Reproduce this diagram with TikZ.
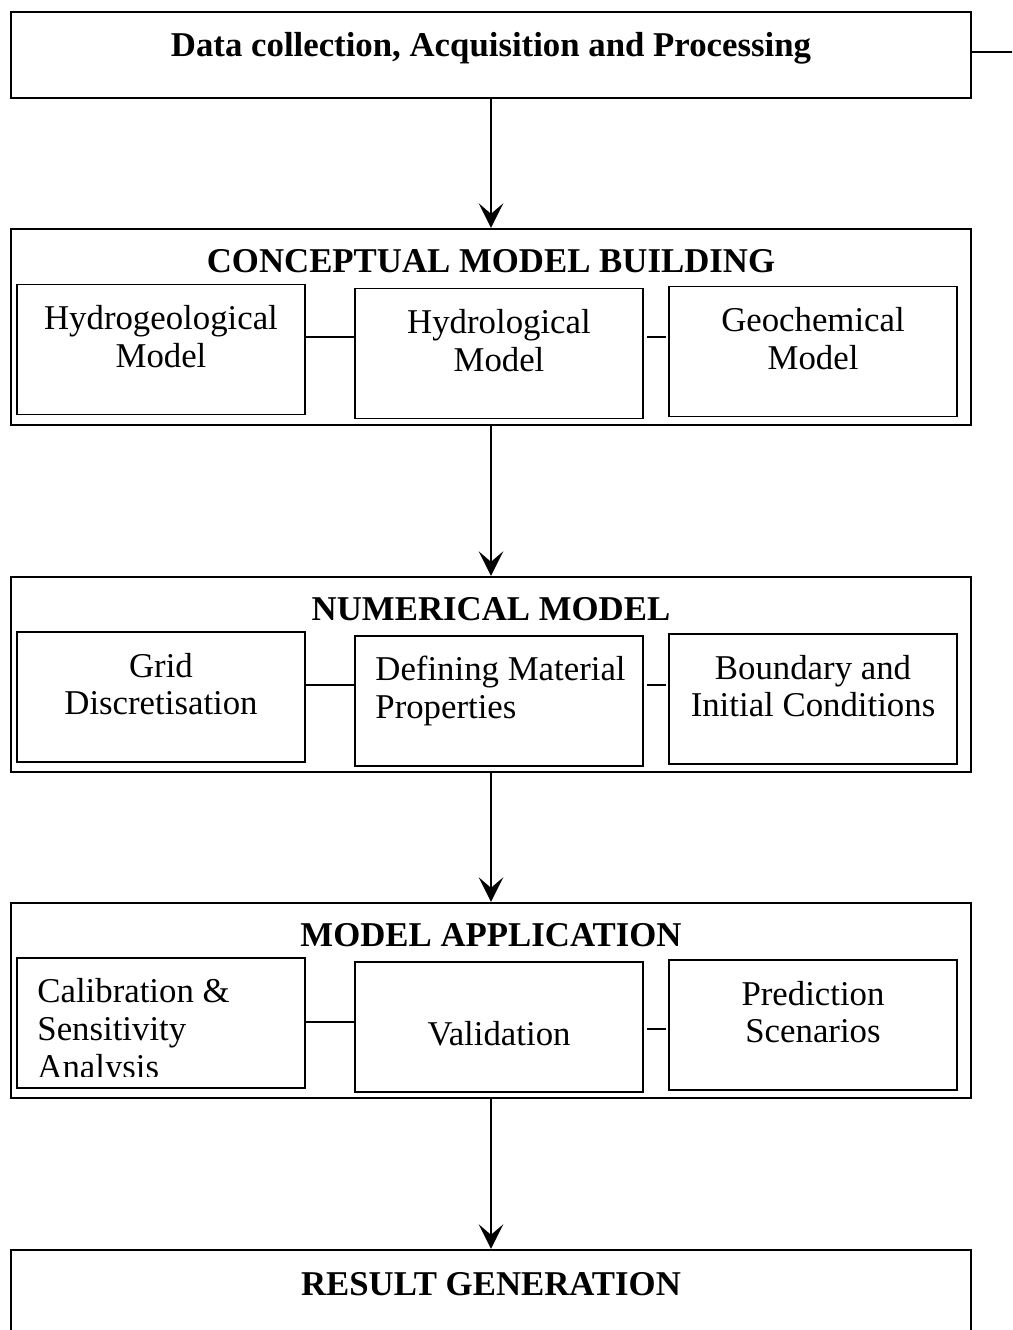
\documentclass[tikz,border=0pt]{standalone}
\usepackage{fontspec}
\setmainfont{Liberation Serif}
\usepackage{tikz}
\usetikzlibrary{arrows.meta,calc,positioning,shapes}

\begin{document}
\begin{tikzpicture}[x=0.02cm,y=-0.02cm,font=\fontsize{19.8}{21.6}\selectfont,
	stage/.style={draw,line width=1.3pt,minimum width=19.2cm},
	part/.style={draw,line width=1.1pt,minimum width=5.76cm,minimum height=2.6cm},
	txt/.style={inner sep=0pt,align=center},
	ltxt/.style={inner sep=0pt,align=left,anchor=north west},
	head/.style={inner sep=0pt,font=\fontsize{19.8}{21.6}\selectfont\bfseries},
	flow/.style={-{Stealth[length=14pt,width=14pt,inset=6pt]},line width=1.2pt},
	link/.style={line width=1pt}]
	\useasboundingbox (0,0) rectangle (1012,1330);
	\clip (0,0) rectangle (1012,1330);

	\node[stage,minimum height=1.72cm] (datacol) at (491,55) {};
	\node[stage,minimum height=3.92cm] (concept) at (491,327) {};
	\node[stage,minimum height=3.9cm] (numeric) at (491,674.5) {};
	\node[stage,minimum height=3.9cm] (apply) at (491,1000.5) {};
	\node[stage,minimum height=2.4cm] (result) at (491,1310) {};

	\node[part] (hgeo) at (161,349.5) {};
	\node[part] (hydro) at (499,353.5) {};
	\node[part] (gchem) at (813,351.5) {};
	\node[part] (grid) at (161,697) {};
	\node[part] (matprop) at (499,701) {};
	\node[part] (bcond) at (813,699) {};
	\node[part] (calib) at (161,1023) {};
	\node[part] (valid) at (499,1027) {};
	\node[part] (predict) at (813,1025) {};

	\node[head,below=0.42cm of datacol.north] (datacoltext) {Data collection, Acquisition and Processing};
	\node[head,below=0.42cm of concept.north] (concepttext) {CONCEPTUAL MODEL BUILDING};
	\node[head,below=0.42cm of numeric.north] (numerictext) {NUMERICAL MODEL};
	\node[head,below=0.42cm of apply.north] (applytext) {MODEL APPLICATION};
	\node[head,below=0.46cm of result.north] (resulttext) {RESULT GENERATION};

	\node[txt,below=0.43cm of hgeo.north] (hgeotext) {Hydrogeological\\Model};
	\node[txt,below=0.43cm of hydro.north] (hydrotext) {Hydrological\\Model};
	\node[txt,below=0.43cm of gchem.north] (gchemtext) {Geochemical\\Model};
	\node[txt,below=0.43cm of grid.north] (gridtext) {Grid\\Discretisation};
	\node[ltxt] (matproptext) at ([xshift=0.42cm,yshift=-0.42cm]matprop.north west) {Defining Material\\Properties};
	\node[txt,below=0.43cm of bcond.north] (bcondtext) {Boundary and\\Initial Conditions};
	\begin{scope}
		\clip (calib.north west) rectangle ([yshift=0.24cm]calib.south east);
		\node[ltxt] (calibtext) at ([xshift=0.42cm,yshift=-0.42cm]calib.north west) {Calibration \&\\Sensitivity\\Analysis};
	\end{scope}
	\node[txt,below=1.2cm of valid.north] (validtext) {Validation};
	\node[txt,below=0.43cm of predict.north] (predicttext) {Prediction\\Scenarios};

	\draw[flow] (datacol.south) -- (concept.north);
	\draw[flow] (concept.south) -- (numeric.north);
	\draw[flow] (numeric.south) -- (apply.north);
	\draw[flow] (apply.south) -- (result.north);

	\draw[link] (datacol.east) ++(0,-3) coordinate (dcout) -- ++(60,0);

	\draw[link] (hgeo.east) ++(0,-12.5) coordinate (c1) -- (c1 -| hydro.west);
	\draw[link,shorten <=2pt,shorten >=1pt] (hydro.east) ++(0,-16.5) coordinate (c2) -- (c2 -| gchem.west);
	\draw[link] (grid.east) ++(0,-12) coordinate (c3) -- (c3 -| matprop.west);
	\draw[link,shorten <=2pt,shorten >=1pt] (matprop.east) ++(0,-16) coordinate (c4) -- (c4 -| bcond.west);
	\draw[link] (calib.east) ++(0,-1) coordinate (c5) -- (c5 -| valid.west);
	\draw[link,shorten <=2pt,shorten >=1pt] (valid.east) ++(0,2) coordinate (c6) -- (c6 -| predict.west);
\end{tikzpicture}
\end{document}
